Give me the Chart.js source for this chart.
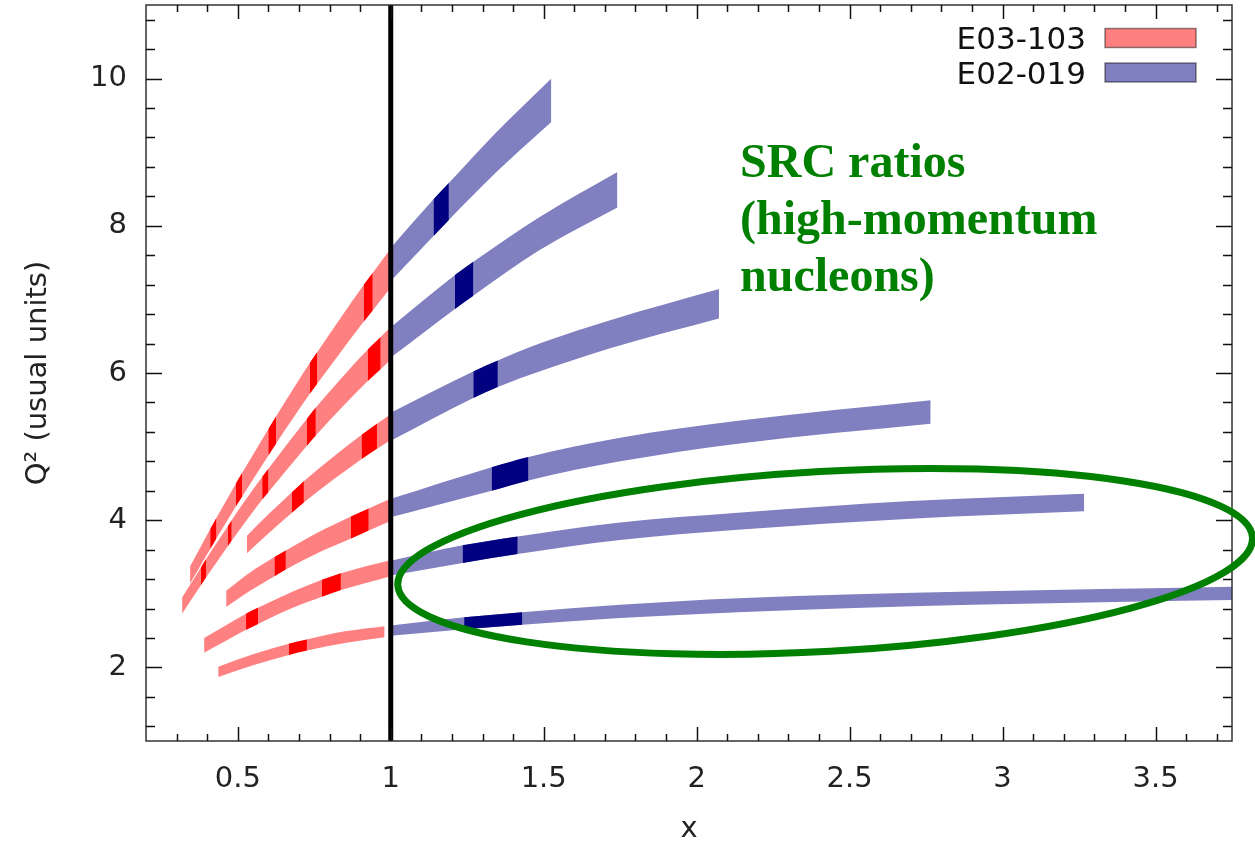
<!DOCTYPE html>
<html>
<head>
<meta charset="utf-8">
<title>Q2 vs x kinematic coverage</title>
<script src="https://cdn.jsdelivr.net/npm/chart.js@4.4.0/dist/chart.umd.min.js"></script>
<style>
  html, body { margin: 0; padding: 0; background: #fff; }
  #wrap { width: 1255px; height: 844px; }
</style>
</head>
<body>
<div id="wrap"><canvas id="kinChart" width="1255" height="844"></canvas></div>
<script>
// tick labels
const xTicks = [0.5, 1, 1.5, 2, 2.5, 3, 3.5];
const yTicks = [2, 4, 6, 8, 10];
const seriesNames = ['E03-103', 'E02-019'];

// E03-103 bands (x < 1): x, lower edge, upper edge of Q2, and the slices drawn darker (index of slice start)
const redX = [
    [0.344, 0.41, 0.43, 0.494, 0.514, 0.60, 0.625, 0.736, 0.759, 0.912, 0.941, 1.0],
    [0.318, 0.38, 0.396, 0.468, 0.48, 0.58, 0.60, 0.726, 0.755, 0.925, 0.967, 1.0],
    [0.53, 0.6, 0.677, 0.716, 0.905, 0.955, 1.0],
    [0.462, 0.54, 0.62, 0.657, 0.76, 0.87, 0.928, 1.0],
    [0.39, 0.46, 0.527, 0.566, 0.68, 0.775, 0.837, 1.0],
    [0.436, 0.55, 0.667, 0.726, 0.85, 0.98]
];
const redLo = [
    [3.14, 3.61, 3.75, 4.19, 4.32, 4.88, 5.04, 5.72, 5.85, 6.70, 6.85, 7.16],
    [2.73, 3.12, 3.22, 3.65, 3.72, 4.28, 4.38, 5.01, 5.15, 5.89, 6.05, 6.18],
    [3.55, 3.82, 4.10, 4.24, 4.83, 4.97, 5.09],
    [2.82, 3.04, 3.24, 3.33, 3.55, 3.75, 3.86, 3.99],
    [2.20, 2.36, 2.51, 2.59, 2.81, 2.96, 3.05, 3.24],
    [1.87, 2.03, 2.17, 2.23, 2.33, 2.41]
];
const redHi = [
    [3.37, 3.88, 4.03, 4.50, 4.64, 5.24, 5.41, 6.14, 6.28, 7.20, 7.36, 7.69],
    [2.95, 3.36, 3.47, 3.92, 4.00, 4.59, 4.70, 5.38, 5.53, 6.32, 6.49, 6.63],
    [3.79, 4.08, 4.38, 4.53, 5.16, 5.31, 5.44],
    [3.04, 3.29, 3.50, 3.59, 3.83, 4.05, 4.16, 4.29],
    [2.40, 2.57, 2.73, 2.81, 3.03, 3.19, 3.28, 3.46],
    [2.01, 2.18, 2.32, 2.38, 2.49, 2.56]
];
const redDark = [[1, 3, 5, 7, 9], [1, 3, 5, 7, 9], [2, 4], [2, 5], [2, 5], [2]];

// E02-019 bands (x > 1)
const blueX = [
    [1.0, 1.14, 1.19, 1.343, 1.525],
    [1.0, 1.21, 1.27, 1.483, 1.741],
    [1.0, 1.27, 1.35, 1.5, 1.72, 2.073],
    [1.0, 1.33, 1.45, 1.75, 2.135, 2.765],
    [1.0, 1.235, 1.415, 1.75, 2.135, 2.7, 3.267],
    [1.0, 1.24, 1.43, 1.75, 2.135, 2.9, 3.8]
];
const blueLo = [
    [7.25, 7.86, 8.08, 8.72, 9.41],
    [6.21, 6.87, 7.05, 7.66, 8.25],
    [5.08, 5.66, 5.81, 6.04, 6.34, 6.74],
    [4.04, 4.40, 4.54, 4.80, 5.04, 5.31],
    [3.25, 3.42, 3.54, 3.73, 3.87, 4.02, 4.12],
    [2.43, 2.52, 2.58, 2.67, 2.75, 2.85, 2.92]
];
const blueHi = [
    [7.70, 8.36, 8.58, 9.26, 10.0],
    [6.62, 7.33, 7.51, 8.11, 8.73],
    [5.46, 6.02, 6.17, 6.42, 6.72, 7.14],
    [4.29, 4.72, 4.86, 5.12, 5.35, 5.63],
    [3.45, 3.66, 3.78, 3.97, 4.10, 4.26, 4.36],
    [2.57, 2.68, 2.75, 2.85, 2.94, 3.03, 3.10]
];
const blueDark = [[1], [1], [1], [1], [1], [1]];

// x = 1 divider
const dividerX = 1;

// annotation
const noteLines = ['SRC ratios', '(high-momentum', 'nucleons)'];
const noteAnchor = { x: 2.142, y: 8.667 };   // first baseline, data units
const ellipseCenter = { x: 2.42, y: 3.44 };  // data units

const RED_LIGHT = '#ff8080', RED_DARK = '#ff0000';
const BLUE_LIGHT = '#8080c0', BLUE_DARK = '#000080';
const GREEN = '#008000';
const TICK_FONT = { family: 'DejaVu Sans', size: 29 };

// one upper/lower pair, upper filled down to lower ('+1')
function edgePair(row, lo, hi, color, segColor, order) {
    const common = {
        borderColor: 'transparent',
        borderWidth: 0,
        pointRadius: 0,
        cubicInterpolationMode: 'monotone',
        order: order
    };
    const upper = {
        ...common,
        data: row.map((x, i) => ({ x: x, y: hi[i] })),
        fill: '+1',
        backgroundColor: color
    };
    if (segColor) upper.segment = { backgroundColor: segColor };
    return [upper, { ...common, data: row.map((x, i) => ({ x: x, y: lo[i] })), fill: false }];
}

// each band: full light fill underneath, darker slices laid on top
function bandDatasets(xs, lo, hi, dark, light, darkColor) {
    const out = [];
    xs.forEach((row, b) => {
        const darkSlices = dark[b];
        out.push(...edgePair(row, lo[b], hi[b], 'transparent',
            c => darkSlices.includes(c.p0DataIndex) ? darkColor : 'transparent', 1));
        out.push(...edgePair(row, lo[b], hi[b], light, null, 2));
    });
    return out;
}

// frame with inward ticks on all four sides
const frameTicks = {
    id: 'frameTicks',
    afterDatasetsDraw(chart) {
        const { ctx, chartArea: a, scales: { x, y } } = chart;
        ctx.save();
        ctx.strokeStyle = '#333';
        ctx.lineWidth = 1.5;
        ctx.strokeRect(a.left, a.top, a.right - a.left, a.bottom - a.top);
        ctx.strokeStyle = '#111';
        ctx.beginPath();
        for (let k = 3; k <= 37; k++) {
            const px = Math.round(x.getPixelForValue(k / 10)) + 0.5;
            const len = k % 5 === 0 ? 14 : 7;
            ctx.moveTo(px, a.bottom); ctx.lineTo(px, a.bottom - len);
            ctx.moveTo(px, a.top); ctx.lineTo(px, a.top + len);
        }
        for (let k = 0; k <= 24; k++) {
            const py = Math.round(y.getPixelForValue(1.2 + 0.4 * k)) + 0.5;
            const len = (k - 2) % 5 === 0 ? 16 : 9;
            ctx.moveTo(a.left, py); ctx.lineTo(a.left + len, py);
            ctx.moveTo(a.right, py); ctx.lineTo(a.right - len, py);
        }
        ctx.stroke();
        ctx.restore();
    }
};

// legend (text left of swatch), green ellipse and note
const overlay = {
    id: 'overlay',
    afterDraw(chart) {
        const { ctx, chartArea: a, scales: { x, y } } = chart;
        ctx.save();

        // legend
        const swatchColors = [RED_LIGHT, BLUE_LIGHT];
        ctx.font = '31px "DejaVu Sans"';
        ctx.textAlign = 'right';
        ctx.textBaseline = 'alphabetic';
        seriesNames.forEach((name, i) => {
            const cy = a.top + 33 + i * 34.5;
            ctx.fillStyle = '#111';
            ctx.fillText(name, a.right - 146, cy + 11);
            ctx.fillStyle = swatchColors[i];
            ctx.fillRect(a.right - 127, cy - 9.5, 91, 19);
            ctx.strokeStyle = 'rgba(0,0,0,0.45)';
            ctx.lineWidth = 1.5;
            ctx.strokeRect(a.right - 127, cy - 9.5, 91, 19);
        });

        // ellipse around the x > 1.4 region
        ctx.strokeStyle = GREEN;
        ctx.lineWidth = 7;
        ctx.beginPath();
        ctx.ellipse(x.getPixelForValue(ellipseCenter.x), y.getPixelForValue(ellipseCenter.y),
            428, 90, -3.2 * Math.PI / 180, 0, 2 * Math.PI);
        ctx.stroke();

        // note
        ctx.fillStyle = GREEN;
        ctx.font = 'bold 48px "Liberation Serif"';
        ctx.textAlign = 'left';
        const nx = x.getPixelForValue(noteAnchor.x);
        const ny = y.getPixelForValue(noteAnchor.y);
        noteLines.forEach((line, i) => ctx.fillText(line, nx, ny + i * 57));

        ctx.restore();
    }
};

const datasets = [
    {
        data: [{ x: dividerX, y: 1 }, { x: dividerX, y: 11 }],
        borderColor: '#000',
        borderWidth: 5,
        pointRadius: 0,
        fill: false,
        order: 0
    },
    ...bandDatasets(redX, redLo, redHi, redDark, RED_LIGHT, RED_DARK),
    ...bandDatasets(blueX, blueLo, blueHi, blueDark, BLUE_LIGHT, BLUE_DARK)
];

new Chart(document.getElementById('kinChart'), {
    type: 'line',
    data: { datasets: datasets },
    options: {
        responsive: false,
        animation: false,
        layout: { padding: { top: 5, right: 23, left: 0, bottom: 0 } },
        plugins: {
            legend: { display: false },
            tooltip: { enabled: false }
        },
        scales: {
            x: {
                type: 'linear',
                min: 0.2,
                max: 3.75,
                grid: { display: false, drawTicks: false },
                border: { display: false },
                afterBuildTicks: s => { s.ticks = xTicks.map(v => ({ value: v })); },
                afterFit: s => { s.height = 103; s.paddingLeft = 0; s.paddingRight = 0; },
                ticks: {
                    font: TICK_FONT,
                    color: '#222',
                    padding: 21,
                    maxRotation: 0,
                    callback: v => String(v)
                },
                title: {
                    display: true,
                    text: 'x',
                    color: '#222',
                    font: { family: 'DejaVu Sans', size: 29, lineHeight: 1 },
                    padding: { top: 0, bottom: 0 }
                }
            },
            y: {
                type: 'linear',
                min: 1,
                max: 11,
                grid: { display: false, drawTicks: false },
                border: { display: false },
                afterBuildTicks: s => { s.ticks = yTicks.map(v => ({ value: v })); },
                afterFit: s => { s.width = 146; s.paddingTop = 0; s.paddingBottom = 0; },
                ticks: {
                    font: TICK_FONT,
                    color: '#222',
                    padding: 19,
                    callback: v => String(v)
                },
                title: {
                    display: true,
                    text: 'Q² (usual units)',
                    color: '#222',
                    font: { family: 'DejaVu Sans', size: 29, lineHeight: 1.2 },
                    padding: { top: 21, bottom: 0 }
                }
            }
        }
    },
    plugins: [frameTicks, overlay]
});
</script>
</body>
</html>
